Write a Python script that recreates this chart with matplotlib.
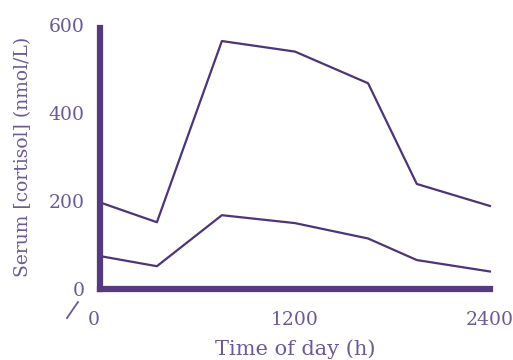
import matplotlib.pyplot as plt
from matplotlib.lines import Line2D

# --- data ---
HOURS = [0, 350, 750, 1200, 1650, 1950, 2400]
UPPER = [197, 152, 564, 540, 468, 239, 189]
LOWER = [75, 52, 168, 150, 115, 66, 40]
Y_TICKS = [0, 200, 400, 600]
X_TICKS = [0, 1200, 2400]

LINE_COLOR = '#4e3478'
AXIS_COLOR = '#553a80'
TEXT_COLOR = '#6b5a96'

plt.rcParams['font.family'] = ['DejaVu Serif']

fig = plt.figure(figsize=(5.13, 3.6), dpi=100)
ax = fig.add_axes([0.195, 0.197, 0.760, 0.733])

ax.plot(HOURS, UPPER, color=LINE_COLOR, linewidth=1.6, clip_on=False)
ax.plot(HOURS, LOWER, color=LINE_COLOR, linewidth=1.6, clip_on=False)

ax.set_xlim(0, 2400)
ax.set_ylim(0, 600)

for side in ['top', 'right']:
    ax.spines[side].set_visible(False)
for side in ['left', 'bottom']:
    ax.spines[side].set_linewidth(4.5)
    ax.spines[side].set_color(AXIS_COLOR)
    ax.spines[side].set_capstyle('projecting')
ax.spines['left'].set_bounds(0, 594)

ax.set_yticks(Y_TICKS)
ax.set_yticklabels([str(v) for v in Y_TICKS])
ax.set_xticks(X_TICKS)
ax.set_xticklabels([str(v) for v in X_TICKS])
ax.tick_params(length=0, labelsize=13.5, labelcolor=TEXT_COLOR)
ax.tick_params(axis='y', pad=11)
ax.tick_params(axis='x', pad=16)
ax.get_xticklabels()[0].set_horizontalalignment('right')

ax.set_xlabel('Time of day (h)', fontsize=15, color=TEXT_COLOR, labelpad=7)
ax.set_ylabel('Serum [cortisol] (nmol/L)', fontsize=13.5, color=TEXT_COLOR, labelpad=12)

# axis-break slash near origin
fig.add_artist(Line2D([67 / 513, 78 / 513], [1 - 318 / 360, 1 - 302 / 360],
                      color=TEXT_COLOR, linewidth=1.3))

fig.savefig('out.png', dpi=100)
